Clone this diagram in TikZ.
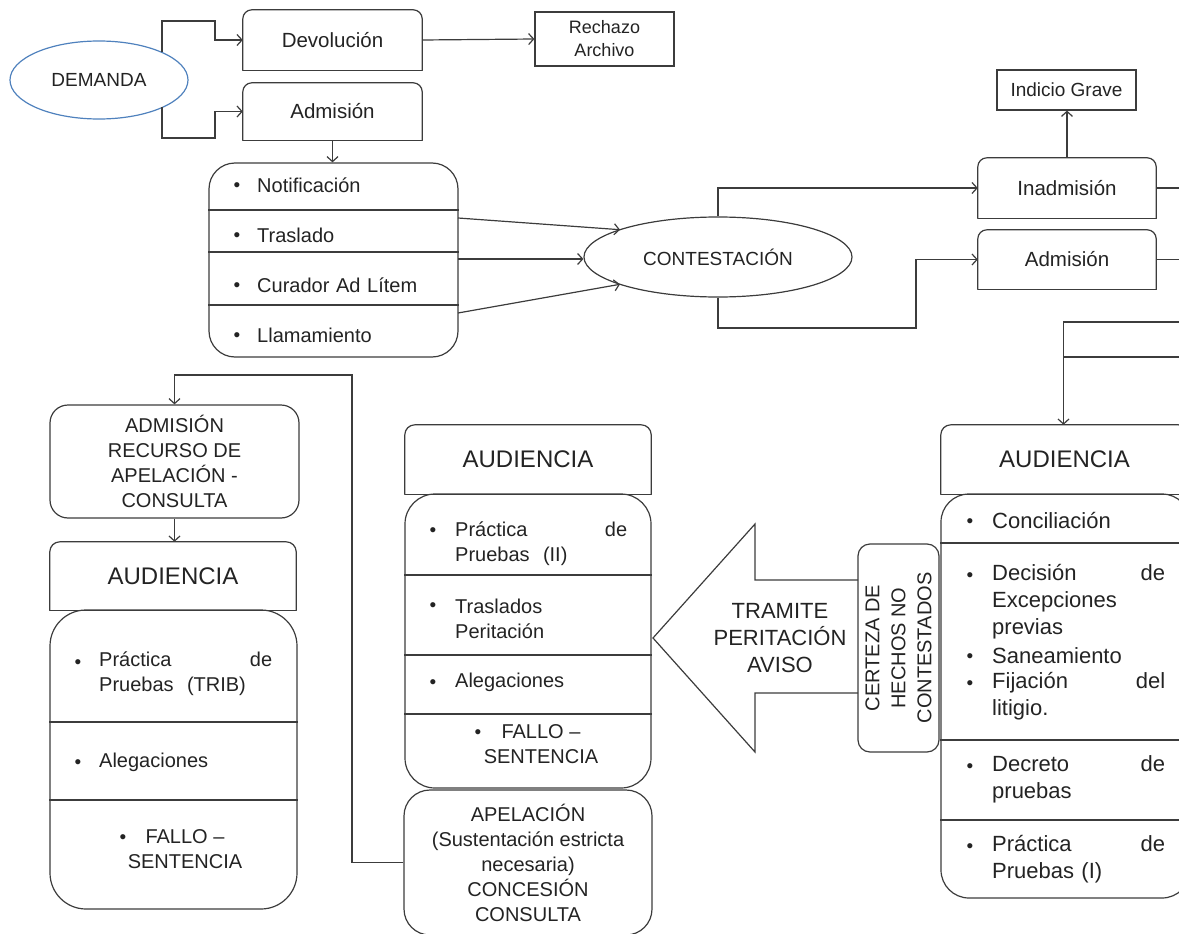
\documentclass[tikz,border=0pt]{standalone}
\usepackage{fontspec}
\setmainfont{Liberation Sans}
\usetikzlibrary{shapes.geometric,arrows.meta}
\definecolor{lnc}{RGB}{60,60,60}
\definecolor{txc}{RGB}{35,35,35}
\definecolor{blu}{RGB}{79,129,189}
\tikzset{
  ln/.style={draw=lnc, line width=1.2pt},
  arr/.style={ln, -{Straight Barb[length=5pt,width=11pt]}},
  txt/.style={text=txc, inner sep=0pt},
  fa/.style={font=\fontsize{20}{25}\selectfont},
  fb/.style={font=\fontsize{22}{27}\selectfont},
  fc/.style={font=\fontsize{24}{28}\selectfont},
  fr/.style={font=\fontsize{18}{23}\selectfont},
  bul/.style={txt, font=\fontsize{19}{19}\selectfont, yshift=-2.5pt},
  itm/.style={txt, anchor=west, align=left, text width=173pt},
  lbox/.style={ln, rectangle, inner sep=0pt},
}
% top-rounded box: [radius]{name}{style}{x1}{y1}{x2}{y2}{text}
\newcommand\tbox[8][8pt]{%
  \node[txt,#3,align=center,minimum width={(#6)-(#4)},minimum height={(#7)-(#5)}] (#2) at ({((#4)+(#6))/2},{((#5)+(#7))/2}) {#8};
  \draw[ln,line cap=round,rounded corners=#1] (#2.south west) -- (#2.north west) -- (#2.north east) -- (#2.south east);
  \draw[ln,line cap=round] (#2.south west) -- (#2.south east);
}
\begin{document}
\begin{tikzpicture}[x=1pt,y=-1pt]
\useasboundingbox (0,0) rectangle (1179,934);
\clip (0,0) rectangle (1179,934);
\coordinate (rx) at (1200,0);

% ---------- top row ----------
\node[ellipse, draw=blu, line width=1.2pt, minimum width=178pt, minimum height=78pt, txt, font=\fontsize{19}{23}\selectfont] (dem) at (99,80) {DEMANDA};
\tbox[9pt]{devol}{font=\fontsize{20.5}{25}\selectfont}{243}{10}{422}{70}{Devolución}
\tbox[9pt]{admis}{font=\fontsize{20.5}{25}\selectfont}{243}{83}{422}{140}{Admisión}
\node[lbox, txt, fr, align=center, minimum width=139pt, minimum height=54pt, draw=lnc] (rech) at (604.5,39) {Rechazo\\Archivo};

\coordinate (dem1) at (162,52.5);
\coordinate (dem2) at (162,107.5);
\coordinate (k1) at (215,21);
\coordinate (k2) at (215,138);
\draw[arr] (dem1) |- (k1) |- (devol.west);
\draw[arr] (dem2) |- (k2) |- (admis.west);
\draw[arr] (devol.east) -- (rech.west);

% list 1
\node[lbox, rounded corners=26pt, minimum width=249pt, minimum height=194pt] (list1) at (333.5,260) {};
\draw[arr] (admis.south) -- (admis.south |- list1.north);
\foreach \yy in {210,252,305} \draw[ln] (list1.west |- 0,\yy) -- (list1.east |- 0,\yy);
\node[bul] (b11) at (237,185) {•};
\node[itm, fa] (t11) at (257,185) {Notificación};
\node[bul] (b12) at (237,235) {•};
\node[itm, fa] (t12) at (257,235) {Traslado};
\node[bul] (b13) at (237,285) {•};
\node[itm, fa] (t13) at (257,285) {Curador Ad Lítem};
\node[bul] (b14) at (237,335) {•};
\node[itm, fa] (t14) at (257,335) {Llamamiento};

% contestacion
\node[ellipse, ln, minimum width=268pt, minimum height=80pt, txt, font=\fontsize{19}{23}\selectfont] (contest) at (718,257) {CONTESTACIÓN};
\coordinate (l1a) at (458,218);
\coordinate (l1b) at (458,259);
\coordinate (l1c) at (458,313);
\coordinate (ca) at (620,229.7);
\coordinate (cc) at (620,284.3);
\draw[arr] (l1a) -- (ca);
\draw[arr] (l1b) -- (l1b -| contest.west);
\draw[arr] (l1c) -- (cc);

\tbox[9pt]{inadm}{font=\fontsize{20.5}{25}\selectfont}{978}{158}{1156}{218}{Inadmisión}
\tbox[9pt]{adm2}{font=\fontsize{20.5}{25}\selectfont}{978}{230}{1156}{289}{Admisión}
\node[lbox, txt, font=\fontsize{19}{23}\selectfont, minimum width=139pt, minimum height=40pt, draw=lnc] (indic) at (1066.5,90) {Indicio Grave};
\draw[arr] (contest.north) |- (inadm.west);
\coordinate (cb) at (916,328);
\draw[arr] (contest.south) |- (cb) |- (adm2.west);
\draw[arr] (inadm.north) -- (inadm.north |- indic.south);
\draw[ln] (inadm.east) -- (inadm.east -| rx);
\draw[ln] (adm2.east) -- (adm2.east -| rx);

% ---------- right column ----------
\tbox[10pt]{aud3}{fc}{941}{425}{1188}{494}{AUDIENCIA}
\coordinate (j1) at (1063.5,322);
\draw[arr] (j1 -| rx) -- (j1) -- (j1 |- aud3.north);
\draw[ln] (j1 |- 0,357) -- (rx |- 0,357);
\node[lbox, rounded corners=28pt, minimum width=249pt, minimum height=404pt] (list3) at (1065.5,696) {};
\foreach \yy in {543,740,820} \draw[ln] (list3.west |- 0,\yy) -- (list3.east |- 0,\yy);
\node[bul] (b31) at (970,521) {•};
\node[itm, fb] (t31) at (992,521) {Conciliación};
\node[bul] (b32) at (970,575) {•};
\node[itm, fb] (t32) at (992,602) {Decisión\hfill de\\Excepciones\\previas};
\node[bul] (b33) at (970,656) {•};
\node[itm, fb] (t33) at (992,656) {Saneamiento};
\node[bul] (b34) at (970,683) {•};
\node[itm, fb] (t34) at (992,696.5) {Fijación\hfill del\\litigio.};
\node[bul] (b35) at (970,766) {•};
\node[itm, fb] (t35) at (992,779.5) {Decreto\hfill de\\pruebas};
\node[bul] (b36) at (970,846) {•};
\node[itm, fb] (t36) at (992,859.5) {Práctica\hfill de\\Pruebas (I)};

% big arrow + certeza
\draw[ln, line join=miter] (858,580) -- (755,580) -- (755,524) -- (653,638) -- (755,752) -- (755,693) -- (858,693);
\node[txt, align=center, fb] (tram) at (780,638) {TRAMITE\\PERITACIÓN\\AVISO};
\node[lbox, rounded corners=12pt, rotate=90, minimum width=208pt, minimum height=81pt, txt, align=center, font=\fontsize{20}{26}\selectfont] (cert) at (898.5,648) {CERTEZA DE\\HECHOS NO\\CONTESTADOS};

% ---------- middle column ----------
\tbox[10pt]{aud2}{fc}{405}{425}{651}{494}{AUDIENCIA}
\node[lbox, rounded corners=30pt, minimum width=246pt, minimum height=294pt] (list2) at (528,641) {};
\foreach \yy in {575,655,714} \draw[ln] (list2.west |- 0,\yy) -- (list2.east |- 0,\yy);
\node[bul] (b21) at (433,530) {•};
\node[itm, fa, text width=172pt] (t21) at (455,543.5) {Práctica\hfill de\\Pruebas\ \ (II)};
\node[bul] (b22) at (433,605) {•};
\node[itm, fa] (t22) at (455,618.5) {Traslados\\Peritación};
\node[bul] (b23) at (433,682) {•};
\node[itm, fa] (t23) at (455,682) {Alegaciones};
\node[bul] (b24) at (478,732) {•};
\node[txt, fa, align=center] (t24) at (541,744.5) {FALLO –\\SENTENCIA};
\node[lbox, rounded corners=26pt, minimum width=248pt, minimum height=145pt, txt, fa, align=center] (apel) at (528,862.5) {APELACIÓN\\(Sustentación estricta\\necesaria)\\CONCESIÓN\\CONSULTA};

% ---------- left column ----------
\node[lbox, rounded corners=18pt, minimum width=249pt, minimum height=113pt, txt, fa, align=center] (admrec) at (174.5,461.5) {ADMISIÓN\\RECURSO DE\\APELACIÓN -\\CONSULTA};
\tbox[10pt]{aud1}{fc}{50}{542}{296}{610}{AUDIENCIA}
\draw[arr] (admrec.south) -- (admrec.south |- aud1.north);
\node[lbox, rounded corners=36pt, minimum width=247pt, minimum height=299pt] (listL) at (173.5,759.5) {};
\foreach \yy in {722,800} \draw[ln] (listL.west |- 0,\yy) -- (listL.east |- 0,\yy);
\node[bul] (bL1) at (78,662) {•};
\node[itm, fa] (tL1) at (99,674) {Práctica\hfill de\\Pruebas\ \ (TRIB)};
\node[bul] (bL2) at (78,762) {•};
\node[itm, fa] (tL2) at (99,762) {Alegaciones};
\node[bul] (bL3) at (123,837) {•};
\node[txt, fa, align=center] (tL3) at (185,849.5) {FALLO –\\SENTENCIA};

\coordinate (lp) at (352,375);
\draw[arr] (apel.west) -| (lp) -| (admrec.north);
\end{tikzpicture}
\end{document}
